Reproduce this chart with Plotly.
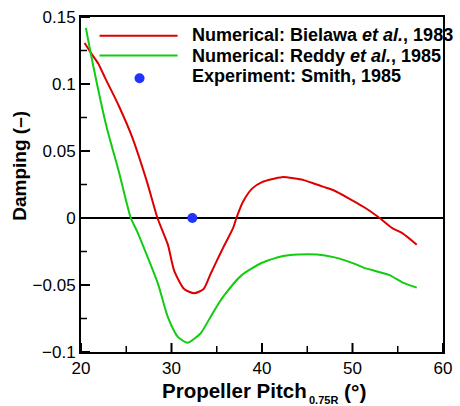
import plotly.graph_objects as go

# ---------------- data ----------------
bielawa_x = [20.4, 21.15, 21.9, 22.7, 23.5, 24.2, 25.6, 27.3, 28.45, 29.6, 30.3, 31.4,
             32.5, 33.55, 34.3, 35.0, 35.7, 36.8, 37.2, 37.9, 38.9, 40.0, 42.2, 44.7,
             45.8, 46.8, 47.9, 51.2, 53.0, 54.4, 55.5, 57.1]
bielawa_y = [0.1306, 0.1227, 0.1153, 0.104, 0.0932, 0.0834, 0.0613, 0.0268, 0.0, -0.0199,
             -0.0395, -0.053, -0.0562, -0.053, -0.042, -0.032, -0.0223, -0.0076, 0.0005,
             0.0121, 0.0219, 0.0268, 0.0305, 0.0281, 0.0256, 0.0232, 0.0207, 0.0084, 0.0,
             -0.0076, -0.0113, -0.0199]

reddy_x = [20.54, 21.3, 22.8, 24.2, 25.5, 26.2, 28.5, 29.6, 30.7, 31.75, 33.2, 34.3,
           35.0, 35.8, 37.7, 40.0, 42.2, 44.0, 46.1, 47.9, 50.4, 51.2, 54.1, 55.5, 57.1]
reddy_y = [0.1419, 0.1153, 0.0687, 0.0342, 0.0, -0.010, -0.049, -0.074, -0.0887, -0.0931,
           -0.0862, -0.074, -0.066, -0.058, -0.043, -0.0334, -0.0285, -0.0272, -0.0272,
           -0.0292, -0.0346, -0.037, -0.0426, -0.048, -0.052]

smith_x = [32.3]
smith_y = [0.0]

x_ticks = [20, 30, 40, 50, 60]
x_minor = [25, 35, 45, 55]
y_ticks = [-0.1, -0.05, 0, 0.05, 0.1, 0.15]
y_minor = [-0.075, -0.025, 0.025, 0.075, 0.125]
y_ticktext = ["\u22120.1", "\u22120.05", "0", "0.05", "0.1", "0.15"]

legend_labels = ["<b>Numerical: Bielawa <i>et al.</i>, 1983</b>",
                 "<b>Numerical: Reddy <i>et al.</i>, 1985</b>",
                 "<b>Experiment: Smith, 1985</b>"]

RED = "#dd0000"
GREEN = "#11cc11"
BLUE = "#2233ff"
FONT = "Liberation Sans, Arial, Helvetica, sans-serif"

# ---------------- layout geometry ----------------
W, H = 460, 406
L, R, T, B = 81, 8, 13, 54
PW, PH = W - L - R, H - T - B


def px_x(p):
    return (p - L) / PW


def px_y(p):
    return (H - B - p) / PH


fig = go.Figure()
fig.add_trace(go.Scatter(x=bielawa_x, y=bielawa_y, mode="lines",
                         line=dict(color=RED, width=2, shape="spline", smoothing=0.6),
                         showlegend=False))
fig.add_trace(go.Scatter(x=reddy_x, y=reddy_y, mode="lines",
                         line=dict(color=GREEN, width=2, shape="spline", smoothing=0.6),
                         showlegend=False))
fig.add_trace(go.Scatter(x=smith_x, y=smith_y, mode="markers",
                         marker=dict(color=BLUE, size=10), showlegend=False))

shapes = [
    dict(type="line", xref="paper", yref="paper", x0=px_x(100), x1=px_x(180),
         y0=px_y(32), y1=px_y(32), line=dict(color=RED, width=2)),
    dict(type="line", xref="paper", yref="paper", x0=px_x(100), x1=px_x(180),
         y0=px_y(52), y1=px_y(52), line=dict(color=GREEN, width=2)),
    dict(type="circle", xref="paper", yref="paper", xsizemode="pixel", ysizemode="pixel",
         xanchor=px_x(141), yanchor=px_y(75), x0=-5, x1=5, y0=-5, y1=5,
         fillcolor=BLUE, line=dict(width=0)),
]

# inside tick marks, placed through the axis scales
for vals, ln, wd in [(x_ticks, 9, 2), (x_minor, 6, 1.5)]:
    for v in vals:
        shapes.append(dict(type="line", xref="x", yref="paper", ysizemode="pixel",
                           yanchor=0, x0=v, x1=v, y0=0, y1=ln,
                           line=dict(color="black", width=wd)))
for vals, ln, wd in [(y_ticks, 9, 2), (y_minor, 6, 1.5)]:
    for v in vals:
        shapes.append(dict(type="line", xref="paper", yref="y", xsizemode="pixel",
                           xanchor=0, x0=0, x1=ln, y0=v, y1=v,
                           line=dict(color="black", width=wd)))

annotations = []
for lab, yy in zip(legend_labels, [31.5, 52, 73]):
    annotations.append(dict(text=lab, xref="paper", yref="paper", x=px_x(193), y=px_y(yy),
                            xanchor="left", yanchor="middle", showarrow=False,
                            font=dict(family=FONT, size=18, color="black")))

annotations += [
    dict(text="<b>Damping (\u2013)</b>", xref="paper", yref="paper", x=px_x(18), y=px_y(164),
         xanchor="center", yanchor="middle", textangle=-90, showarrow=False,
         font=dict(family=FONT, size=19, color="black")),
    dict(text="<b>Propeller Pitch</b>", xref="paper", yref="paper", x=px_x(162), y=px_y(391),
         xanchor="left", yanchor="middle", showarrow=False,
         font=dict(family=FONT, size=20.5, color="black")),
    dict(text="<b>0.75R</b>", xref="paper", yref="paper", x=px_x(313), y=px_y(401),
         xanchor="left", yanchor="middle", showarrow=False,
         font=dict(family=FONT, size=11, color="black")),
    dict(text="<b>(\u00b0)</b>", xref="paper", yref="paper", x=px_x(348), y=px_y(392),
         xanchor="left", yanchor="middle", showarrow=False,
         font=dict(family=FONT, size=21, color="black")),
]

fig.update_layout(
    width=W, height=H,
    margin=dict(l=L, r=R, t=T, b=B),
    paper_bgcolor="white", plot_bgcolor="white",
    showlegend=False,
    shapes=shapes, annotations=annotations,
    font=dict(family=FONT, size=17, color="black"),
    xaxis=dict(range=[20, 60], tickmode="array", tickvals=x_ticks, ticks="",
               showline=True, linewidth=2, linecolor="black", mirror=True,
               showgrid=False, zeroline=False,
               tickfont=dict(family=FONT, size=17, color="black")),
    yaxis=dict(range=[-0.1, 0.15], tickmode="array", tickvals=y_ticks, ticktext=y_ticktext,
               ticks="", showline=True, linewidth=2, linecolor="black", mirror=True,
               showgrid=False, zeroline=True, zerolinecolor="black", zerolinewidth=2,
               tickfont=dict(family=FONT, size=17, color="black")),
)

fig.write_html("out.html")
